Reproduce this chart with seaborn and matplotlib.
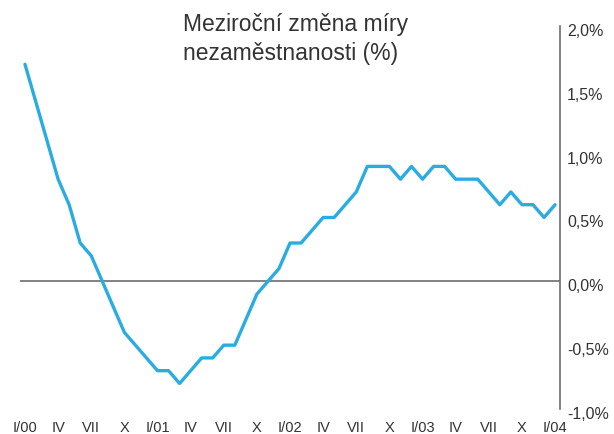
import numpy as np
import pandas as pd
import seaborn as sns
import matplotlib.pyplot as plt
import matplotlib.transforms as mtransforms

# monthly year-on-year change of the unemployment rate, I/2000 .. I/2004
values = [1.7, 1.4, 1.1, 0.8, 0.6, 0.3, 0.2, 0.0, -0.2, -0.4, -0.5, -0.6,
          -0.7, -0.7, -0.8, -0.7, -0.6, -0.6, -0.5, -0.5, -0.3, -0.1, 0.0, 0.1,
          0.3, 0.3, 0.4, 0.5, 0.5, 0.6, 0.7, 0.9, 0.9, 0.9, 0.8, 0.9,
          0.8, 0.9, 0.9, 0.8, 0.8, 0.8, 0.7, 0.6, 0.7, 0.6, 0.6, 0.5,
          0.6]
tick_labels = ["I/00", "IV", "VII", "X", "I/01", "IV", "VII", "X", "I/02",
               "IV", "VII", "X", "I/03", "IV", "VII", "X", "I/04"]
y_ticks = [-1.0, -0.5, 0.0, 0.5, 1.0, 1.5, 2.0]

df = pd.DataFrame({"month": np.arange(len(values)), "change": values})

sns.set_style("white")
plt.rcParams['font.family'] = ['Liberation Sans', 'DejaVu Sans']

fig = plt.figure(figsize=(6.14, 4.35), dpi=100)
ax = fig.add_axes([0.0326, 0.0575, 0.8795, 0.8805])

ax.axhline(0, color="#6d6d6d", lw=1.2, zorder=1)
sns.lineplot(data=df, x="month", y="change", ax=ax, color="#2aace2", lw=2.4, zorder=2)

ax.set_xlim(-0.45, 48.45)
ax.set_ylim(-1.0, 2.0)
ax.set_xticks(np.arange(0, 49, 3))
ax.set_xticklabels(tick_labels)
ax.set_yticks(y_ticks)
ax.set_yticklabels([f"{v:.1f}%".replace(".", ",") for v in y_ticks])
ax.yaxis.tick_right()
ax.tick_params(axis="both", length=0, labelcolor="#333333")
ax.tick_params(axis="x", pad=8, labelsize=10.5)
ax.tick_params(axis="y", pad=5, labelsize=11.5)
shift = mtransforms.ScaledTranslation(0, -3 / 100, fig.dpi_scale_trans)
for lbl in ax.get_yticklabels():
    lbl.set_transform(lbl.get_transform() + shift)
ax.set_xlabel("")
ax.set_ylabel("")

for s in ["top", "left", "bottom"]:
    ax.spines[s].set_visible(False)
ax.spines["right"].set_color("#6d6d6d")
ax.spines["right"].set_linewidth(1.2)

ax.text(183 / 614, 1 - 13 / 435, "Meziroční změna míry\nnezaměstnanosti (%)",
        transform=fig.transFigure, ha="left", va="top", multialignment="left",
        fontsize=16.5, color="#333333", linespacing=1.33)

plt.savefig("out.png", dpi=100)
